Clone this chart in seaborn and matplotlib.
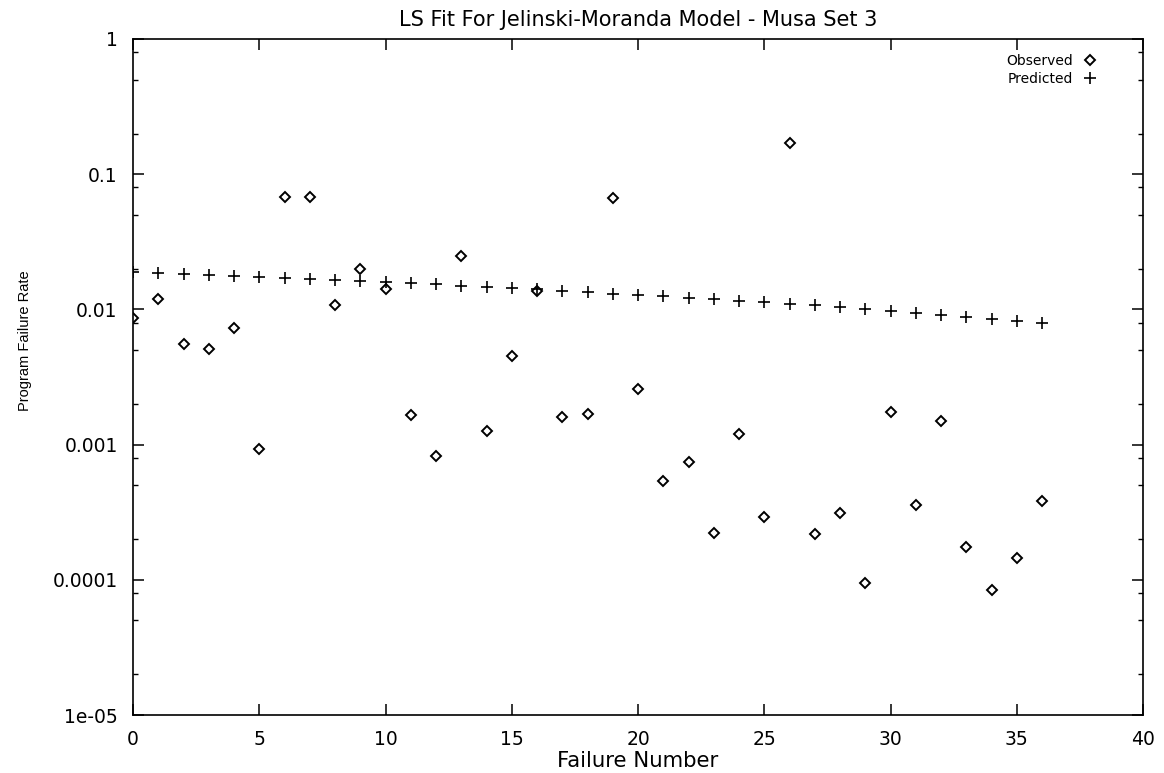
import numpy as np
import pandas as pd
import matplotlib
matplotlib.use("Agg")
import matplotlib.pyplot as plt
import seaborn as sns
from matplotlib.ticker import LogLocator, NullFormatter

# ---- data ----
failure_number = list(range(0, 37))
observed = [0.0086, 0.0119, 0.00556, 0.0051, 0.00727, 0.00092, 0.0675, 0.0674,
            0.0108, 0.0200, 0.0141, 0.00165, 0.00083, 0.025, 0.00125, 0.00452,
            0.0137, 0.0016, 0.00169, 0.0669, 0.00256, 0.000535, 0.00074, 0.000222,
            0.0012, 0.000292, 0.169, 0.000218, 0.00031, 0.0000944, 0.00175,
            0.000355, 0.0015, 0.000176, 0.000084, 0.000146, 0.000385]
predicted = [0.0190, 0.0187, 0.0184, 0.0181, 0.0178, 0.0175, 0.0172, 0.0169,
             0.0166, 0.0162, 0.0159, 0.0156, 0.0153, 0.0150, 0.0147, 0.0144,
             0.0141, 0.0137, 0.0134, 0.0131, 0.0128, 0.0125, 0.0122, 0.0119,
             0.0116, 0.0113, 0.0110, 0.0107, 0.0104, 0.0101, 0.0098, 0.0094,
             0.0091, 0.0088, 0.0085, 0.0082, 0.0079]
x_ticks = [0, 5, 10, 15, 20, 25, 30, 35, 40]
y_ticks = [1e-5, 1e-4, 1e-3, 1e-2, 1e-1, 1]
y_tick_labels = ["1e-05", "0.0001", "0.001", "0.01", "0.1", "1"]
title = "LS Fit For Jelinski-Moranda Model - Musa Set 3"
x_label = "Failure Number"
y_label = "Program Failure Rate"

df = pd.DataFrame({"n": failure_number, "obs": observed, "pred": predicted})

sns.set_style("ticks")
plt.rcParams["font.family"] = ["DejaVu Sans"]
plt.rcParams["text.color"] = "black"
plt.rcParams["axes.labelcolor"] = "black"
plt.rcParams["axes.titlecolor"] = "black"

fig = plt.figure(figsize=(11.64, 7.73), dpi=100)
ax = fig.add_axes([133 / 1164, 1 - 715 / 773, (1143 - 133) / 1164, (715 - 39) / 773])

sns.lineplot(data=df, x="n", y="obs", ax=ax, marker="D", linestyle="",
             markersize=5.4, markerfacecolor="none", markeredgecolor="black",
             markeredgewidth=1.4, color="black", errorbar=None, label="Observed")
sns.lineplot(data=df, x="n", y="pred", ax=ax, marker="+", linestyle="",
             markersize=8, markeredgecolor="black", markeredgewidth=1.2,
             color="black", errorbar=None, label="Predicted")

ax.set_yscale("log")
ax.set_xlim(0, 40)
ax.set_ylim(1e-5, 1)
ax.set_xticks(x_ticks)
ax.set_yticks(y_ticks, y_tick_labels)
ax.yaxis.set_minor_locator(LogLocator(base=10, subs=[2, 5, 8], numticks=20))
ax.yaxis.set_minor_formatter(NullFormatter())
ax.xaxis.set_minor_locator(matplotlib.ticker.NullLocator())

for s in ax.spines.values():
    s.set_visible(True)
    s.set_linewidth(1.2)
    s.set_color("black")

ax.tick_params(axis="both", which="major", direction="in", length=8, width=1.1,
               top=True, right=True, labelsize=13.5, pad=11, colors="black")
ax.tick_params(axis="y", which="minor", direction="in", length=3.6, width=1.0,
               left=True, right=True, colors="black")

ax.set_title(title, fontsize=15, pad=9, color="black")
ax.set_xlabel(x_label, fontsize=15.3, labelpad=1, color="black")
ax.set_ylabel(y_label, fontsize=10.5, family=["Liberation Sans"], color="black")
ax.yaxis.set_label_coords(-0.1, 0.553)

leg = ax.legend(loc="upper right", frameon=False, markerfirst=False,
                fontsize=10, handlelength=1.2, handletextpad=0.6,
                labelspacing=0.25, borderaxespad=0.3, bbox_to_anchor=(0.965, 0.992))
for t in leg.get_texts():
    t.set_color("black")

fig.savefig("out.png", dpi=100)
